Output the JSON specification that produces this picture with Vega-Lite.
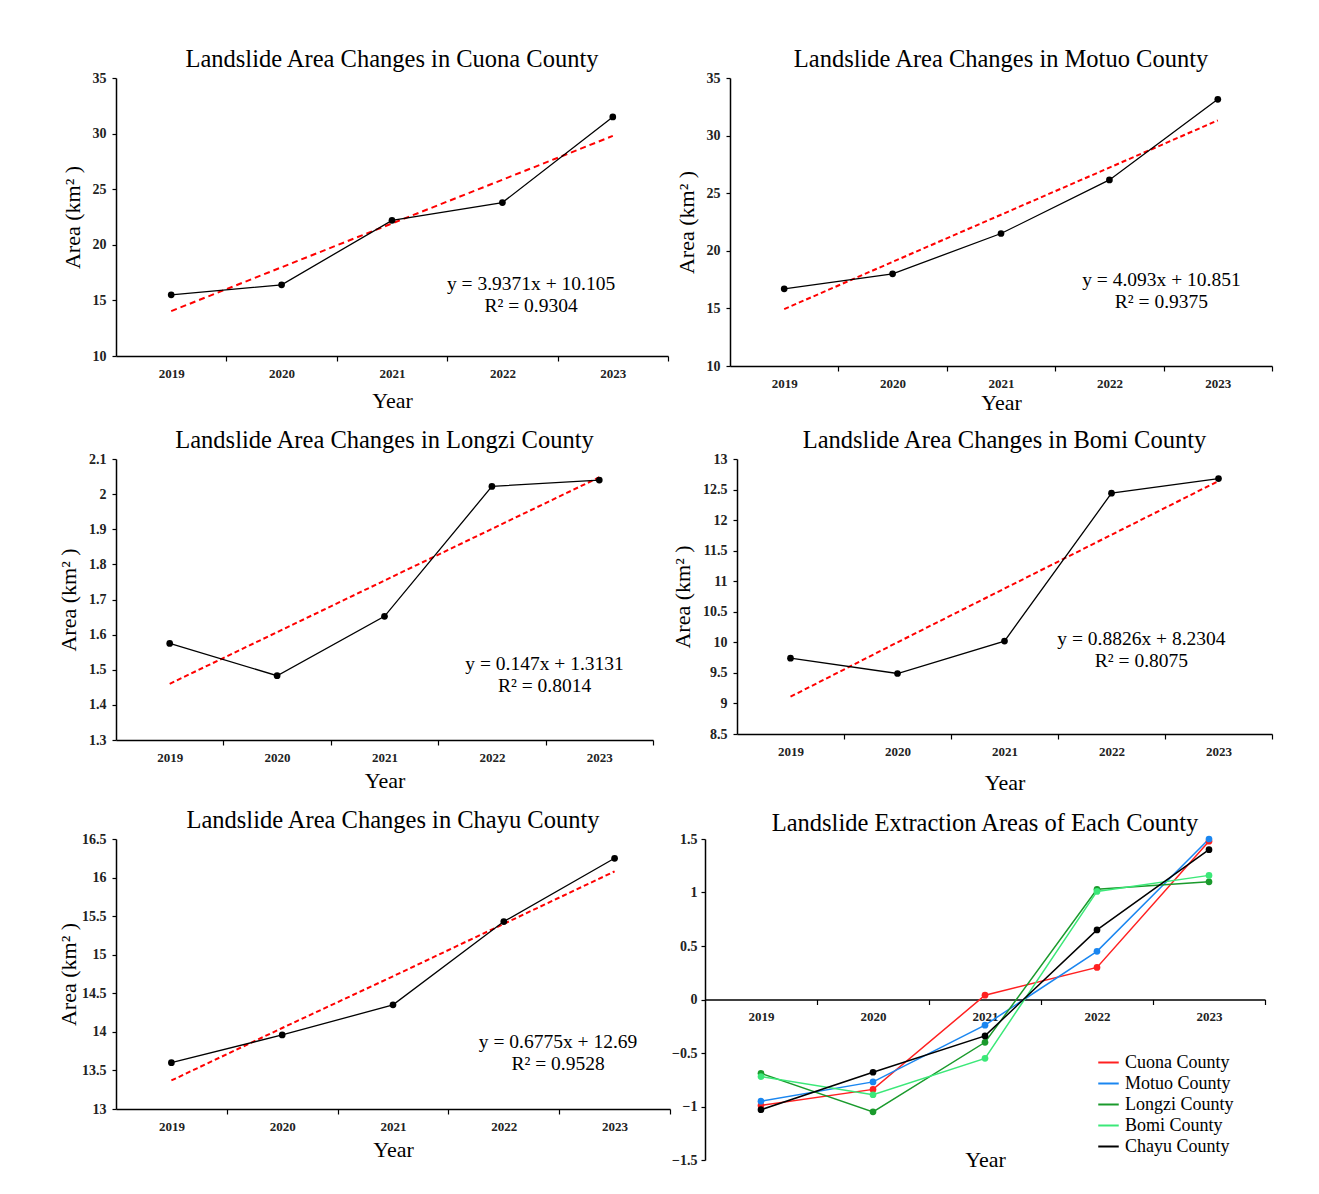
{
  "$schema": "https://vega.github.io/schema/vega-lite/v6.json",
  "padding": {"left": 57, "top": 46, "right": 5, "bottom": 5},
  "background": "white",
  "spacing": 14,
  "resolve": {"legend": {"color": "independent"}, "scale": {"color": "independent"}},
  "datasets": {
    "area": [
      {"county": "Cuona", "year": 2019, "area": 15.5, "trend": 14.04},
      {"county": "Cuona", "year": 2020, "area": 16.4, "trend": 17.98},
      {"county": "Cuona", "year": 2021, "area": 22.2, "trend": 21.92},
      {"county": "Cuona", "year": 2022, "area": 23.8, "trend": 25.85},
      {"county": "Cuona", "year": 2023, "area": 31.5, "trend": 29.79},
      {"county": "Motuo", "year": 2019, "area": 16.7, "trend": 14.94},
      {"county": "Motuo", "year": 2020, "area": 18.0, "trend": 19.04},
      {"county": "Motuo", "year": 2021, "area": 21.5, "trend": 23.13},
      {"county": "Motuo", "year": 2022, "area": 26.15, "trend": 27.22},
      {"county": "Motuo", "year": 2023, "area": 33.15, "trend": 31.32},
      {"county": "Longzi", "year": 2019, "area": 1.575, "trend": 1.46},
      {"county": "Longzi", "year": 2020, "area": 1.483, "trend": 1.607},
      {"county": "Longzi", "year": 2021, "area": 1.652, "trend": 1.754},
      {"county": "Longzi", "year": 2022, "area": 2.022, "trend": 1.901},
      {"county": "Longzi", "year": 2023, "area": 2.04, "trend": 2.048},
      {"county": "Bomi", "year": 2019, "area": 9.74, "trend": 9.11},
      {"county": "Bomi", "year": 2020, "area": 9.49, "trend": 10.0},
      {"county": "Bomi", "year": 2021, "area": 10.02, "trend": 10.88},
      {"county": "Bomi", "year": 2022, "area": 12.44, "trend": 11.76},
      {"county": "Bomi", "year": 2023, "area": 12.68, "trend": 12.64},
      {"county": "Chayu", "year": 2019, "area": 13.6, "trend": 13.37},
      {"county": "Chayu", "year": 2020, "area": 13.96, "trend": 14.05},
      {"county": "Chayu", "year": 2021, "area": 14.35, "trend": 14.72},
      {"county": "Chayu", "year": 2022, "area": 15.43, "trend": 15.4},
      {"county": "Chayu", "year": 2023, "area": 16.25, "trend": 16.08}
    ],
    "notes": [
      {"county": "Cuona", "x": 2022.26, "y": 16.5, "label": "y = 3.9371x + 10.105"},
      {"county": "Cuona", "x": 2022.26, "y": 14.5, "label": "R² = 0.9304"},
      {"county": "Motuo", "x": 2022.48, "y": 17.47, "label": "y = 4.093x + 10.851"},
      {"county": "Motuo", "x": 2022.48, "y": 15.56, "label": "R² = 0.9375"},
      {"county": "Longzi", "x": 2022.49, "y": 1.516, "label": "y = 0.147x + 1.3131"},
      {"county": "Longzi", "x": 2022.49, "y": 1.454, "label": "R² = 0.8014"},
      {"county": "Bomi", "x": 2022.28, "y": 10.05, "label": "y = 0.8826x + 8.2304"},
      {"county": "Bomi", "x": 2022.28, "y": 9.69, "label": "R² = 0.8075"},
      {"county": "Chayu", "x": 2022.49, "y": 13.87, "label": "y = 0.6775x + 12.69"},
      {"county": "Chayu", "x": 2022.49, "y": 13.58, "label": "R² = 0.9528"}
    ],
    "z": [
      {"county": "Cuona County", "year": 2019, "z": -0.99},
      {"county": "Cuona County", "year": 2020, "z": -0.84},
      {"county": "Cuona County", "year": 2021, "z": 0.04},
      {"county": "Cuona County", "year": 2022, "z": 0.3},
      {"county": "Cuona County", "year": 2023, "z": 1.48},
      {"county": "Motuo County", "year": 2019, "z": -0.95},
      {"county": "Motuo County", "year": 2020, "z": -0.77},
      {"county": "Motuo County", "year": 2021, "z": -0.24},
      {"county": "Motuo County", "year": 2022, "z": 0.45},
      {"county": "Motuo County", "year": 2023, "z": 1.5},
      {"county": "Longzi County", "year": 2019, "z": -0.69},
      {"county": "Longzi County", "year": 2020, "z": -1.05},
      {"county": "Longzi County", "year": 2021, "z": -0.4},
      {"county": "Longzi County", "year": 2022, "z": 1.03},
      {"county": "Longzi County", "year": 2023, "z": 1.1},
      {"county": "Bomi County", "year": 2019, "z": -0.72},
      {"county": "Bomi County", "year": 2020, "z": -0.89},
      {"county": "Bomi County", "year": 2021, "z": -0.55},
      {"county": "Bomi County", "year": 2022, "z": 1.01},
      {"county": "Bomi County", "year": 2023, "z": 1.16},
      {"county": "Chayu County", "year": 2019, "z": -1.03},
      {"county": "Chayu County", "year": 2020, "z": -0.68},
      {"county": "Chayu County", "year": 2021, "z": -0.34},
      {"county": "Chayu County", "year": 2022, "z": 0.65},
      {"county": "Chayu County", "year": 2023, "z": 1.4}
    ]
  },
  "vconcat": [
    {
      "spacing": 6,
      "hconcat": [
        {
          "width": 552, "height": 278,
          "title": {"text": "Landslide Area Changes in Cuona County", "offset": -1},
          "resolve": {"axis": {"x": "independent"}},
          "layer": [
            {
              "data": {"name": "area"},
              "transform": [{"filter": "datum.county === 'Cuona'"}],
              "mark": {"type": "line", "color": "#ff0000", "strokeDash": [6, 4], "strokeWidth": 2},
              "encoding": {
                "x": {"field": "year", "type": "quantitative", "scale": {"domain": [2018.5, 2023.5], "nice": false, "zero": false},
                      "axis": {"orient": "bottom", "values": [2019.5, 2020.5, 2021.5, 2022.5, 2023.5], "labels": false, "title": null, "tickSize": 5}},
                "y": {"field": "trend", "type": "quantitative", "scale": {"domain": [10, 35], "nice": false, "zero": false},
                      "axis": {"values": [10, 15, 20, 25, 30, 35], "tickCount": 30, "title": "Area (km² )", "titlePadding": 8}}
              }
            },
            {
              "data": {"name": "area"},
              "transform": [{"filter": "datum.county === 'Cuona'"}],
              "mark": {"type": "line", "color": "#000", "strokeWidth": 1.3, "point": {"filled": true, "color": "#000", "size": 45}},
              "encoding": {
                "x": {"field": "year", "type": "quantitative",
                      "axis": {"orient": "bottom", "values": [2019, 2020, 2021, 2022, 2023], "tickCount": 30, "format": "d", "ticks": false, "domain": false, "title": "Year", "labelPadding": 11, "titlePadding": 10}},
                "y": {"field": "area", "type": "quantitative"}
              }
            },
            {
              "data": {"name": "notes"},
              "transform": [{"filter": "datum.county === 'Cuona'"}],
              "mark": {"type": "text", "fontSize": 19.5, "font": "Liberation Serif", "color": "#000"},
              "encoding": {
                "x": {"field": "x", "type": "quantitative", "axis": null},
                "y": {"field": "y", "type": "quantitative"},
                "text": {"field": "label"}
              }
            }
          ]
        },
        {
          "width": 542, "height": 288,
          "title": {"text": "Landslide Area Changes in Motuo County", "offset": -1},
          "resolve": {"axis": {"x": "independent"}},
          "layer": [
            {
              "data": {"name": "area"},
              "transform": [{"filter": "datum.county === 'Motuo'"}],
              "mark": {"type": "line", "color": "#ff0000", "strokeDash": [5, 3], "strokeWidth": 2},
              "encoding": {
                "x": {"field": "year", "type": "quantitative", "scale": {"domain": [2018.5, 2023.5], "nice": false, "zero": false},
                      "axis": {"orient": "bottom", "values": [2019.5, 2020.5, 2021.5, 2022.5, 2023.5], "labels": false, "title": null, "tickSize": 5}},
                "y": {"field": "trend", "type": "quantitative", "scale": {"domain": [10, 35], "nice": false, "zero": false},
                      "axis": {"values": [10, 15, 20, 25, 30, 35], "tickCount": 30, "title": "Area (km² )", "titlePadding": 8}}
              }
            },
            {
              "data": {"name": "area"},
              "transform": [{"filter": "datum.county === 'Motuo'"}],
              "mark": {"type": "line", "color": "#000", "strokeWidth": 1.3, "point": {"filled": true, "color": "#000", "size": 45}},
              "encoding": {
                "x": {"field": "year", "type": "quantitative",
                      "axis": {"orient": "bottom", "values": [2019, 2020, 2021, 2022, 2023], "tickCount": 30, "format": "d", "ticks": false, "domain": false, "title": "Year", "labelPadding": 11, "titlePadding": 2}},
                "y": {"field": "area", "type": "quantitative"}
              }
            },
            {
              "data": {"name": "notes"},
              "transform": [{"filter": "datum.county === 'Motuo'"}],
              "mark": {"type": "text", "fontSize": 19.5, "font": "Liberation Serif", "color": "#000"},
              "encoding": {
                "x": {"field": "x", "type": "quantitative", "axis": null},
                "y": {"field": "y", "type": "quantitative"},
                "text": {"field": "label"}
              }
            }
          ]
        }
      ]
    },
    {
      "spacing": 17,
      "hconcat": [
        {
          "width": 537, "height": 281,
          "title": {"text": "Landslide Area Changes in Longzi County", "offset": -1},
          "resolve": {"axis": {"x": "independent"}},
          "layer": [
            {
              "data": {"name": "area"},
              "transform": [{"filter": "datum.county === 'Longzi'"}],
              "mark": {"type": "line", "color": "#ff0000", "strokeDash": [5, 3], "strokeWidth": 2},
              "encoding": {
                "x": {"field": "year", "type": "quantitative", "scale": {"domain": [2018.5, 2023.5], "nice": false, "zero": false},
                      "axis": {"orient": "bottom", "values": [2019.5, 2020.5, 2021.5, 2022.5, 2023.5], "labels": false, "title": null, "tickSize": 5}},
                "y": {"field": "trend", "type": "quantitative", "scale": {"domain": [1.3, 2.1], "nice": false, "zero": false},
                      "axis": {"values": [1.3, 1.4, 1.5, 1.6, 1.7, 1.8, 1.9, 2.0, 2.1], "tickCount": 30, "format": "~g", "title": "Area (km² )", "titlePadding": 8}}
              }
            },
            {
              "data": {"name": "area"},
              "transform": [{"filter": "datum.county === 'Longzi'"}],
              "mark": {"type": "line", "color": "#000", "strokeWidth": 1.3, "point": {"filled": true, "color": "#000", "size": 45}},
              "encoding": {
                "x": {"field": "year", "type": "quantitative",
                      "axis": {"orient": "bottom", "values": [2019, 2020, 2021, 2022, 2023], "tickCount": 30, "format": "d", "ticks": false, "domain": false, "title": "Year", "labelPadding": 11, "titlePadding": 6}},
                "y": {"field": "area", "type": "quantitative"}
              }
            },
            {
              "data": {"name": "notes"},
              "transform": [{"filter": "datum.county === 'Longzi'"}],
              "mark": {"type": "text", "fontSize": 19.5, "font": "Liberation Serif", "color": "#000"},
              "encoding": {
                "x": {"field": "x", "type": "quantitative", "axis": null},
                "y": {"field": "y", "type": "quantitative"},
                "text": {"field": "label"}
              }
            }
          ]
        },
        {
          "width": 535, "height": 275,
          "title": {"text": "Landslide Area Changes in Bomi County", "offset": -1},
          "resolve": {"axis": {"x": "independent"}},
          "layer": [
            {
              "data": {"name": "area"},
              "transform": [{"filter": "datum.county === 'Bomi'"}],
              "mark": {"type": "line", "color": "#ff0000", "strokeDash": [5, 3], "strokeWidth": 2},
              "encoding": {
                "x": {"field": "year", "type": "quantitative", "scale": {"domain": [2018.5, 2023.5], "nice": false, "zero": false},
                      "axis": {"orient": "bottom", "values": [2019.5, 2020.5, 2021.5, 2022.5, 2023.5], "labels": false, "title": null, "tickSize": 5}},
                "y": {"field": "trend", "type": "quantitative", "scale": {"domain": [8.5, 13], "nice": false, "zero": false},
                      "axis": {"values": [8.5, 9, 9.5, 10, 10.5, 11, 11.5, 12, 12.5, 13], "tickCount": 30, "format": "~g", "title": "Area (km² )", "titlePadding": 8}}
              }
            },
            {
              "data": {"name": "area"},
              "transform": [{"filter": "datum.county === 'Bomi'"}],
              "mark": {"type": "line", "color": "#000", "strokeWidth": 1.3, "point": {"filled": true, "color": "#000", "size": 45}},
              "encoding": {
                "x": {"field": "year", "type": "quantitative",
                      "axis": {"orient": "bottom", "values": [2019, 2020, 2021, 2022, 2023], "tickCount": 30, "format": "d", "ticks": false, "domain": false, "title": "Year", "labelPadding": 11, "titlePadding": 14}},
                "y": {"field": "area", "type": "quantitative"}
              }
            },
            {
              "data": {"name": "notes"},
              "transform": [{"filter": "datum.county === 'Bomi'"}],
              "mark": {"type": "text", "fontSize": 19.5, "font": "Liberation Serif", "color": "#000"},
              "encoding": {
                "x": {"field": "x", "type": "quantitative", "axis": null},
                "y": {"field": "y", "type": "quantitative"},
                "text": {"field": "label"}
              }
            }
          ]
        }
      ]
    },
    {
      "spacing": 0,
      "resolve": {"legend": {"color": "independent"}, "scale": {"color": "independent"}},
      "hconcat": [
        {
          "width": 554, "height": 270,
          "title": {"text": "Landslide Area Changes in Chayu County", "offset": -1},
          "resolve": {"axis": {"x": "independent"}},
          "layer": [
            {
              "data": {"name": "area"},
              "transform": [{"filter": "datum.county === 'Chayu'"}],
              "mark": {"type": "line", "color": "#ff0000", "strokeDash": [5, 3], "strokeWidth": 2},
              "encoding": {
                "x": {"field": "year", "type": "quantitative", "scale": {"domain": [2018.5, 2023.5], "nice": false, "zero": false},
                      "axis": {"orient": "bottom", "values": [2019.5, 2020.5, 2021.5, 2022.5, 2023.5], "labels": false, "title": null, "tickSize": 5}},
                "y": {"field": "trend", "type": "quantitative", "scale": {"domain": [13, 16.5], "nice": false, "zero": false},
                      "axis": {"values": [13, 13.5, 14, 14.5, 15, 15.5, 16, 16.5], "tickCount": 30, "format": "~g", "title": "Area (km² )", "titlePadding": 1}}
              }
            },
            {
              "data": {"name": "area"},
              "transform": [{"filter": "datum.county === 'Chayu'"}],
              "mark": {"type": "line", "color": "#000", "strokeWidth": 1.3, "point": {"filled": true, "color": "#000", "size": 45}},
              "encoding": {
                "x": {"field": "year", "type": "quantitative",
                      "axis": {"orient": "bottom", "values": [2019, 2020, 2021, 2022, 2023], "tickCount": 30, "format": "d", "ticks": false, "domain": false, "title": "Year", "labelPadding": 11, "titlePadding": 6}},
                "y": {"field": "area", "type": "quantitative"}
              }
            },
            {
              "data": {"name": "notes"},
              "transform": [{"filter": "datum.county === 'Chayu'"}],
              "mark": {"type": "text", "fontSize": 19.5, "font": "Liberation Serif", "color": "#000"},
              "encoding": {
                "x": {"field": "x", "type": "quantitative", "axis": null},
                "y": {"field": "y", "type": "quantitative"},
                "text": {"field": "label"}
              }
            }
          ]
        },
        {
          "width": 560, "height": 321,
          "title": {"text": "Landslide Extraction Areas of Each County", "offset": -4},
          "resolve": {"axis": {"x": "independent"}},
          "layer": [
            {
              "data": {"name": "z"},
              "mark": {"type": "line", "strokeWidth": 1.5},
              "encoding": {
                "x": {"field": "year", "type": "quantitative", "scale": {"domain": [2018.5, 2023.5], "nice": false, "zero": false},
                      "axis": {"orient": "bottom", "offset": -160.5, "values": [2019, 2020, 2021, 2022, 2023], "tickCount": 30, "format": "d", "ticks": false, "domain": false, "title": "Year", "titleY": 150, "labelPadding": 11}},
                "y": {"field": "z", "type": "quantitative", "scale": {"domain": [-1.5, 1.5], "nice": false, "zero": false},
                      "axis": {"values": [-1.5, -1, -0.5, 0, 0.5, 1, 1.5], "tickCount": 30, "format": "~g", "title": null, "labelPadding": 4}},
                "color": {"field": "county", "type": "nominal",
                          "scale": {"domain": ["Cuona County", "Motuo County", "Longzi County", "Bomi County", "Chayu County"],
                                    "range": ["#ff2020", "#1a86f0", "#1a9a2c", "#3be878", "#000000"]},
                          "legend": {"orient": "none", "legendX": 392, "legendY": 212, "title": null, "labelFontSize": 18, "labelFont": "Liberation Serif", "labelColor": "#000", "symbolType": "stroke", "symbolStrokeWidth": 2, "symbolSize": 420, "rowPadding": 0, "labelOffset": 5}}
              }
            },
            {
              "data": {"name": "z"},
              "mark": {"type": "point", "filled": true, "size": 45, "opacity": 1},
              "encoding": {
                "x": {"field": "year", "type": "quantitative",
                      "axis": {"orient": "bottom", "offset": -160.5, "values": [2019.5, 2020.5, 2021.5, 2022.5, 2023.5], "labels": false, "title": null, "tickSize": 5}},
                "y": {"field": "z", "type": "quantitative"},
                "color": {"field": "county", "type": "nominal"}
              }
            }
          ]
        }
      ]
    }
  ],
  "config": {
    "font": "Liberation Serif",
    "view": {"stroke": null},
    "axis": {
      "domainColor": "#000", "domainWidth": 1.5, "tickColor": "#000", "tickWidth": 1.2,
      "labelColor": "#222", "labelFont": "Liberation Serif", "labelFontWeight": "bold", "labelFontSize": 13,
      "titleFont": "Liberation Serif", "titleFontWeight": "normal", "titleFontSize": 22, "titleColor": "#000",
      "grid": false, "labelOverlap": false
    },
    "axisY": {"labelFontSize": 14, "labelPadding": 6, "tickSize": 4},
    "title": {"font": "Liberation Serif", "fontSize": 24.5, "fontWeight": "normal", "color": "#000"}
  }
}
